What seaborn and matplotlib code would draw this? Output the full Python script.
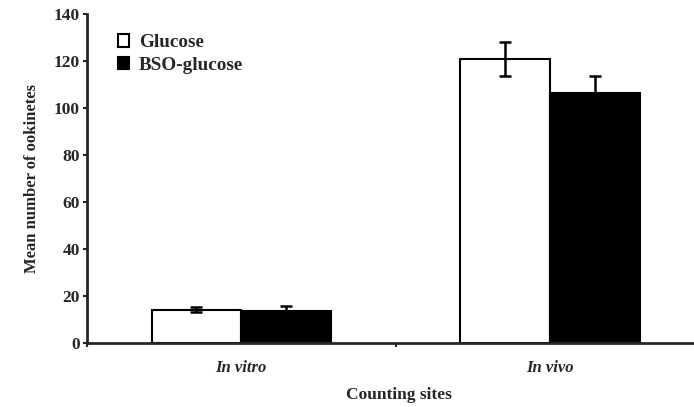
import matplotlib
matplotlib.use("Agg")
import matplotlib.pyplot as plt
import seaborn as sns
import pandas as pd
import numpy as np

sites = ["In vitro", "In vivo"]
groups = ["Glucose", "BSO-glucose"]
glucose_mean = [14.3, 121]
glucose_err = [1.0, 7.3]
bso_mean = [13.7, 106.5]
bso_err = [2.0, 7.0]
yticks = [0, 20, 40, 60, 80, 100, 120, 140]

df = pd.DataFrame({
    "site": sites * 2,
    "group": [groups[0]] * 2 + [groups[1]] * 2,
    "mean": glucose_mean + bso_mean,
    "err": glucose_err + bso_err,
})

sns.set_theme(style="ticks")
plt.rcParams["font.family"] = ["Liberation Serif", "DejaVu Serif"]

fig = plt.figure(figsize=(6.94, 4.07), dpi=100)
ax = fig.add_axes([0.125, 0.157, 0.899, 0.808])

sns.barplot(data=df, x="site", y="mean", hue="group", order=sites, hue_order=groups,
            palette={"Glucose": "white", "BSO-glucose": "black"}, edgecolor="black",
            linewidth=1.5, width=0.58, errorbar=None, ax=ax, zorder=2)

# error bars from bar patches
for cont, g in zip(ax.containers, groups):
    sub = df[df["group"] == g].set_index("site").loc[sites]
    xs = [p.get_x() + p.get_width() / 2 for p in cont.patches]
    ax.errorbar(xs, sub["mean"].values, yerr=sub["err"].values, fmt="none",
                ecolor="black", elinewidth=1.8, capsize=4.3, capthick=1.8, zorder=3)

ax.set_yticks(yticks)
ax.set_yticklabels([str(t) for t in yticks], fontsize=12.5, fontweight="bold")
ax.set_xticks([0, 1])
ax.set_xticklabels(sites, fontsize=12, fontstyle="italic", fontweight="bold")
ax.tick_params(axis="x", length=0, pad=12)
ax.set_xticks([-0.5, 0.5], minor=True)
ax.tick_params(axis="x", which="minor", length=3, width=1.5, direction="out")
ax.tick_params(axis="y", length=3, width=1.5, direction="out", pad=2)
ax.set_ylim(0, 140)
ax.set_xlim(-0.5, 1.52)

ax.set_xlabel("Counting sites", fontsize=12.5, fontweight="bold", labelpad=8)
ax.set_ylabel("Mean number of ookinetes", fontsize=12, fontweight="bold", labelpad=10)

for s in ["top", "right"]:
    ax.spines[s].set_visible(False)
ax.spines["left"].set_linewidth(2)
ax.spines["bottom"].set_linewidth(2)

leg = ax.legend(loc="upper left", bbox_to_anchor=(0.037, 0.962), frameon=False,
                prop={"size": 13.8, "weight": "bold"}, handlelength=0.62, handleheight=0.62,
                handletextpad=0.5, labelspacing=0.28, borderaxespad=0)
for h in leg.legend_handles:
    h.set_linewidth(1.5)
    h.set_edgecolor("black")

fig.savefig("out.png", dpi=100)
